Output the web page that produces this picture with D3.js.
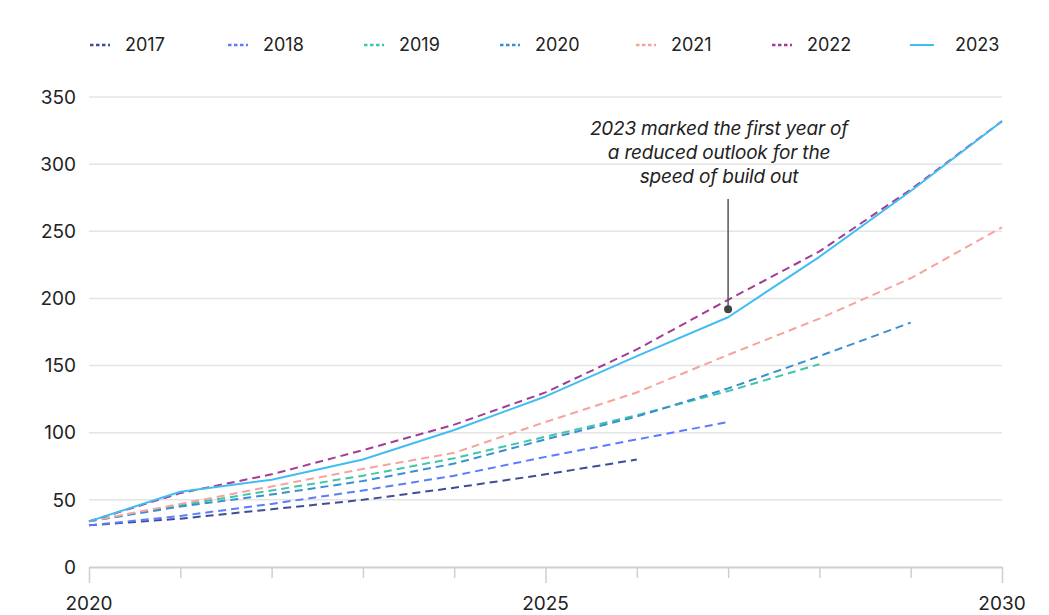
<!DOCTYPE html>
<html>
<head>
<meta charset="utf-8">
<script src="https://cdn.jsdelivr.net/npm/d3@7"></script>
<style>
  html, body { margin: 0; padding: 0; background: #fff; }
  svg { display: block; font-family: Inter, "Noto Sans", sans-serif; }
</style>
</head>
<body>
<svg id="chart" width="1049" height="615"></svg>
<script>
// Outlook vintages: each series is the projection published in that year
const years = [2020, 2021, 2022, 2023, 2024, 2025, 2026, 2027, 2028, 2029, 2030];

const s2017 = [31, 36, 43, 50, 59, 69, 80];
const s2018 = [31, 38, 47, 57, 68, 82, 95, 108];
const s2019 = [34, 46, 57, 68, 81, 97, 113, 131, 151];
const s2020 = [34, 45, 54, 64, 77, 95, 112, 133, 157, 182];
const s2021 = [34, 47, 60, 73, 85, 108, 130, 158, 185, 215, 253];
const s2022 = [34, 55, 69, 87, 106, 130, 162, 199, 235, 281, 332];
const s2023 = [34, 56, 65, 80, 102, 127, 157, 186, 231, 280, 332];

const seriesNames = ["2017", "2018", "2019", "2020", "2021", "2022", "2023"];
const seriesValues = [s2017, s2018, s2019, s2020, s2021, s2022, s2023];
const seriesColors = ["#3f4d94", "#5b7cff", "#3cc7a6", "#3a8fd0", "#f7a39c", "#a23c98", "#41bdf3"];
const seriesDashed = [true, true, true, true, true, true, false];

const yTicks = [0, 50, 100, 150, 200, 250, 300, 350];
const xLabelYears = [2020, 2025, 2030];

const noteLines = ["2023 marked the first year of", "a reduced outlook for the", "speed of build out"];
const noteYear = 2027;
const noteValue = 192;
const noteTopValue = 274;

const svg = d3.select("#chart");
const x = d3.scaleLinear().domain([2020, 2030]).range([89, 1002]);
const y = d3.scaleLinear().domain([0, 350]).range([567, 97]);

// horizontal gridlines
svg.append("g")
  .selectAll("line")
  .data(yTicks.filter(d => d > 0))
  .join("line")
  .attr("x1", x(2020)).attr("x2", x(2030))
  .attr("y1", d => y(d)).attr("y2", d => y(d))
  .attr("stroke", "#e4e4e4")
  .attr("stroke-width", 1.5);

// y tick labels
svg.append("g")
  .selectAll("text")
  .data(yTicks)
  .join("text")
  .attr("x", 76)
  .attr("y", d => y(d))
  .attr("dy", "0.35em")
  .attr("text-anchor", "end")
  .attr("font-size", 19)
  .attr("fill", "#222")
  .text(d => d);

// x axis with yearly ticks
const xAxis = d3.axisBottom(x)
  .tickValues(years)
  .tickSize(0)
  .tickFormat("");
const gx = svg.append("g").attr("transform", `translate(0,${y(0)})`).call(xAxis);
gx.select(".domain").attr("stroke", "#cfcfcf").attr("stroke-width", 2);
gx.selectAll(".tick line")
  .attr("y2", d => xLabelYears.includes(d) ? 16 : 11)
  .attr("stroke", "#cfcfcf")
  .attr("stroke-width", 1.5);

svg.append("g")
  .selectAll("text")
  .data(xLabelYears)
  .join("text")
  .attr("x", d => x(d))
  .attr("y", 603)
  .attr("dy", "0.35em")
  .attr("text-anchor", "middle")
  .attr("font-size", 19)
  .attr("fill", "#222")
  .text(d => d);

// series lines
const line = d3.line()
  .x((d, i) => x(years[i]))
  .y(d => y(d));

svg.append("g")
  .selectAll("path")
  .data(seriesValues)
  .join("path")
  .attr("d", d => line(d))
  .attr("fill", "none")
  .attr("stroke", (d, i) => seriesColors[i])
  .attr("stroke-width", 2)
  .attr("stroke-dasharray", (d, i) => seriesDashed[i] ? "8,5" : null)
  .attr("stroke-linejoin", "round");

// annotation
svg.append("line")
  .attr("x1", x(noteYear)).attr("x2", x(noteYear))
  .attr("y1", y(noteTopValue)).attr("y2", y(noteValue))
  .attr("stroke", "#555")
  .attr("stroke-width", 1.5);
svg.append("circle")
  .attr("cx", x(noteYear)).attr("cy", y(noteValue))
  .attr("r", 4)
  .attr("fill", "#444");
svg.append("g")
  .selectAll("text")
  .data(noteLines)
  .join("text")
  .attr("x", 719)
  .attr("y", (d, i) => 128 + i * 24)
  .attr("dy", "0.35em")
  .attr("text-anchor", "middle")
  .attr("font-size", 19)
  .attr("font-style", "italic")
  .attr("letter-spacing", "-0.2")
  .attr("fill", "#222")
  .text(d => d);

// legend
const legendX = [90, 228, 364, 500, 636, 772, 910];
const legend = svg.append("g")
  .selectAll("g")
  .data(seriesNames)
  .join("g")
  .attr("transform", (d, i) => `translate(${legendX[i]},45)`);
legend.append("line")
  .attr("x1", 0).attr("x2", (d, i) => seriesDashed[i] ? 20 : 24)
  .attr("y1", 0).attr("y2", 0)
  .attr("stroke", (d, i) => seriesColors[i])
  .attr("stroke-width", (d, i) => seriesDashed[i] ? 2.5 : 2)
  .attr("stroke-dasharray", (d, i) => seriesDashed[i] ? "3.5,2.5" : null);
legend.append("text")
  .attr("x", (d, i) => i === 6 ? 45 : 35)
  .attr("y", 0)
  .attr("dy", "0.35em")
  .attr("font-size", 18)
  .attr("fill", "#222")
  .text(d => d);
</script>
</body>
</html>
